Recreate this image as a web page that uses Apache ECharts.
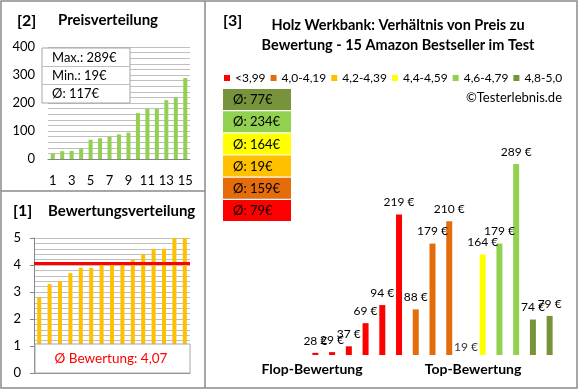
<!DOCTYPE html>
<html><head><meta charset="utf-8">
<script src="https://cdn.jsdelivr.net/npm/echarts@6/dist/echarts.min.js"></script>
<style>html,body{margin:0;padding:0;background:#fff}#c{width:579px;height:390px}</style>
</head><body><div id="c"></div>
<script>
// ---- data ----
const productPrices = [28, 29, 37, 69, 94, 219, 88, 179, 210, 19, 164, 179, 289, 74, 79];
const productGroups = [0, 0, 0, 0, 0, 0, 1, 1, 1, 2, 3, 4, 4, 5, 5];
const groupNames = ['<3,99', '4,0-4,19', '4,2-4,39', '4,4-4,59', '4,6-4,79', '4,8-5,0'];
const groupColors = ['#FF0000', '#E46C0A', '#FFC000', '#FFFF00', '#92D050', '#77933C'];
const ratings = [2.8, 3.3, 3.4, 3.7, 3.9, 3.9, 4.0, 4.0, 4.0, 4.2, 4.4, 4.6, 4.6, 5.0, 5.0];
const ratingAvg = 4.07;
const rankLabels = ['1','2','3','4','5','6','7','8','9','10','11','12','13','14','15'];
const priceTicks = [0, 100, 200, 300, 400];
const ratingTicks = [0, 1, 2, 3, 4, 5];
const compareAxis = [25, 300];

const FONT = 'Lato';
const pricesSorted = productPrices.slice().sort((a, b) => a - b);
const maxP = Math.max(...productPrices), minP = Math.min(...productPrices);
const avgP = Math.round(productPrices.reduce((a, b) => a + b, 0) / productPrices.length);
const groupAvgs = groupNames.map((_, k) => {
  const v = productPrices.filter((p, i) => productGroups[i] === k);
  return Math.round(v.reduce((a, b) => a + b, 0) / v.length);
});
const rightCats = productPrices.map((_, i) => String(i + 1));

const chart = echarts.init(document.getElementById('c'), null, {renderer: 'canvas'});

const txt = (text, x, y, size, weight, align, fill) => ({
  type: 'text', z: 100,
  style: {text, x, y, fontSize: size, fontWeight: weight || 'normal', fontFamily: FONT,
    fill: fill || '#000', textAlign: align || 'left', textVerticalAlign: 'middle'}
});

const graphics = [
  {type: 'rect', z: 100, shape: {x: 1, y: 1, width: 576, height: 387}, style: {fill: 'none', stroke: '#8a8a8a', lineWidth: 1.5}},
  {type: 'line', z: 100, shape: {x1: 205, y1: 1, x2: 205, y2: 388}, style: {stroke: '#8a8a8a', lineWidth: 1.5}},
  {type: 'line', z: 100, shape: {x1: 1, y1: 191, x2: 205, y2: 191}, style: {stroke: '#8a8a8a', lineWidth: 1.5}},
  txt('[2]', 17, 21, 16, 'bold'),
  txt('Preisverteilung', 58, 20, 15, 'bold'),
  txt('[1]', 13, 211, 16, 'bold'),
  txt('Bewertungsverteilung', 48, 211, 15, 'bold'),
  txt('[3]', 223, 21, 16, 'bold'),
  txt('Holz Werkbank: Verhältnis von Preis zu', 398, 25, 14.5, 'bold', 'center'),
  txt('Bewertung - 15 Amazon Bestseller im Test', 398, 45, 14.5, 'bold', 'center'),
  txt('©Testerlebnis.de', 562, 98, 13, 'normal', 'right'),
  txt('Flop-Bewertung', 312, 369, 14, 'bold', 'center'),
  txt('Top-Bewertung', 473, 369, 14, 'bold', 'center'),
  // info box
  {type: 'rect', z: 100, shape: {x: 42, y: 48, width: 88, height: 55}, style: {fill: '#fff', stroke: '#a6a6a6', lineWidth: 1}},
  {type: 'line', z: 101, shape: {x1: 42, y1: 66.5, x2: 130, y2: 66.5}, style: {stroke: '#c0c0c0', lineWidth: 1}},
  {type: 'line', z: 101, shape: {x1: 42, y1: 84.5, x2: 130, y2: 84.5}, style: {stroke: '#c0c0c0', lineWidth: 1}},
  txt('Max.: ' + maxP + '€', 52, 57.5, 13),
  txt('Min.: ' + minP + '€', 52, 75.5, 13),
  txt('Ø: ' + avgP + '€', 52, 94, 13),
  // average rating box
  {type: 'rect', z: 100, shape: {x: 35, y: 344, width: 155, height: 29}, style: {fill: '#fff', stroke: '#a6a6a6', lineWidth: 1}},
  txt('Ø Bewertung: ' + ratingAvg.toFixed(2).replace('.', ','), 111, 358.5, 13.5, 'normal', 'center', '#FF0000')
];
for (let j = 0; j < groupNames.length; j++) {
  const k = groupNames.length - 1 - j;
  const y = 89 + j * 22.2;
  graphics.push({type: 'rect', z: 100, shape: {x: 223, y: y, width: 68, height: 21}, style: {fill: groupColors[k]}});
  graphics.push(txt('Ø: ' + groupAvgs[k] + '€', 233, y + 11, 13));
}

const axisLabelStyle = {fontSize: 13, fontFamily: FONT, color: '#000'};
const gridLine = {lineStyle: {color: '#bfbfbf', width: 1}};

const series = [
  {type: 'bar', xAxisIndex: 0, yAxisIndex: 0, data: pricesSorted, barWidth: 4, itemStyle: {color: '#92D050'}},
  {type: 'bar', xAxisIndex: 1, yAxisIndex: 1, data: ratings, barWidth: 4, itemStyle: {color: '#FFC000'},
    markLine: {silent: true, symbol: 'none', data: [{yAxis: ratingAvg}], label: {show: false},
      lineStyle: {color: '#FF0000', width: 3, type: 'solid'}, z: 50}}
];
groupNames.forEach((name, k) => {
  series.push({
    type: 'bar', name, xAxisIndex: 2, yAxisIndex: 2, barWidth: 6, barGap: '-100%',
    itemStyle: {color: groupColors[k]},
    data: productPrices.map((v, i) => productGroups[i] === k ? v : '-'),
    label: {show: true, position: 'top', distance: 6, formatter: '{c} €', fontSize: 12, fontFamily: FONT, color: '#000'}
  });
});
series.push({
  type: 'scatter', xAxisIndex: 2, yAxisIndex: 2, symbolSize: 0,
  data: productPrices.map(v => v < compareAxis[0] ? compareAxis[0] : '-'),
  label: {show: true, position: 'top', distance: 2, fontSize: 12, fontFamily: FONT, color: '#000',
    formatter: p => productPrices[p.dataIndex] + ' €'}
});

chart.setOption({
  animation: false,
  textStyle: {fontFamily: FONT},
  grid: [
    {left: 48, top: 47, width: 142, height: 112},
    {left: 34, top: 238, width: 156, height: 135},
    {left: 307, top: 156, width: 251, height: 199}
  ],
  legend: {
    data: groupNames, left: 224, top: 72, padding: 0, itemWidth: 6, itemHeight: 6, itemGap: 5,
    icon: 'rect', width: 420, textStyle: {fontSize: 12, fontFamily: FONT, color: '#000'}
  },
  xAxis: [
    {type: 'category', gridIndex: 0, data: rankLabels, axisLine: {lineStyle: {color: '#868686'}},
      axisTick: {show: false}, axisLabel: Object.assign({interval: 1, margin: 15}, axisLabelStyle)},
    {type: 'category', gridIndex: 1, data: rankLabels, axisLine: {lineStyle: {color: '#868686'}},
      axisTick: {show: false}, axisLabel: {show: false}},
    {type: 'category', gridIndex: 2, data: rightCats, show: false}
  ],
  yAxis: [
    {type: 'value', gridIndex: 0, min: priceTicks[0], max: priceTicks[priceTicks.length - 1], interval: priceTicks[1] - priceTicks[0],
      axisLine: {show: false}, axisTick: {show: false}, axisLabel: Object.assign({margin: 13}, axisLabelStyle),
      splitLine: gridLine, minorTick: {show: false, splitNumber: 5}, minorSplitLine: Object.assign({show: true}, gridLine)},
    {type: 'value', gridIndex: 1, min: ratingTicks[0], max: ratingTicks[ratingTicks.length - 1], interval: ratingTicks[1] - ratingTicks[0],
      axisLine: {show: true, lineStyle: {color: '#868686'}}, axisTick: {show: true, length: 4, lineStyle: {color: '#868686'}},
      axisLabel: Object.assign({margin: 13}, axisLabelStyle),
      splitLine: gridLine, minorTick: {show: false, splitNumber: 5}, minorSplitLine: Object.assign({show: true}, gridLine)},
    {type: 'value', gridIndex: 2, min: compareAxis[0], max: compareAxis[1], show: false, splitLine: {show: false}}
  ],
  series,
  graphic: graphics
});
</script></body></html>
